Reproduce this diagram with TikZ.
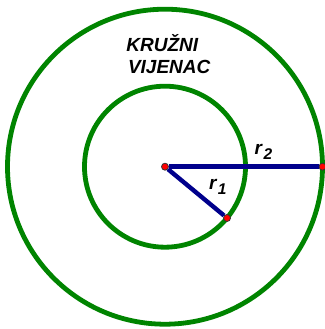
\documentclass[tikz,border=0pt]{standalone}
\usepackage{fontspec}
\setsansfont{Liberation Sans}
\usepackage{tikz}
\usetikzlibrary{positioning}
\definecolor{ringgreen}{RGB}{0, 132, 0}
\definecolor{radblue}{RGB}{0, 0, 140}
\tikzset{
    ring/.style={
        draw=ringgreen,
        line width=4.8pt
    },
    radline/.style={
        draw=radblue,
        line width=4.4pt
    },
    dot/.style={
        circle,
        fill=red,
        draw=black!80,
        line width=0.8pt,
        inner sep=0pt,
        minimum size=7pt
    },
    title/.style={
        inner sep=0pt,
        anchor=base west,
        font=\sffamily\bfseries\itshape\fontsize{19}{22}\selectfont
    },
    rlabel/.style={
        inner sep=0pt,
        anchor=base west,
        font=\sffamily\bfseries\itshape\fontsize{19}{22}\selectfont
    }
}
\newcommand{\idx}[1]{\kern1.5pt\raisebox{-4.5pt}{\fontsize{15.5}{16}\selectfont #1}}

\begin{document}
\begin{tikzpicture}[x=1pt, y=1pt]
    \useasboundingbox (-165,-162.3) rectangle (159,166.7);
    % the two circles
    \coordinate (O) at (0,0);
    \draw[ring] (O) circle[radius=157.5];
    \draw[ring] (O) circle[radius=80.5];
    % points
    \node[dot] (C) at (O) {};
    \node[dot] (A) at (-39.6:80.5) {};
    \node[dot] (B) at (0:157.5) {};
    \draw[radline] (C) -- (A);
    \draw[radline] (C) -- (B);
    % labels
    \node[title] (t1) at (-38.8,115) {KRUŽNI};
    \node[title] (t2) at (-37.2,93.4) {VIJENAC};
    \node[rlabel] (r2) at (89.5,11.7) {r\idx{2}};
    \node[rlabel] (r1) at (43.8,-23.3) {r\idx{1}};
\end{tikzpicture}
\end{document}
